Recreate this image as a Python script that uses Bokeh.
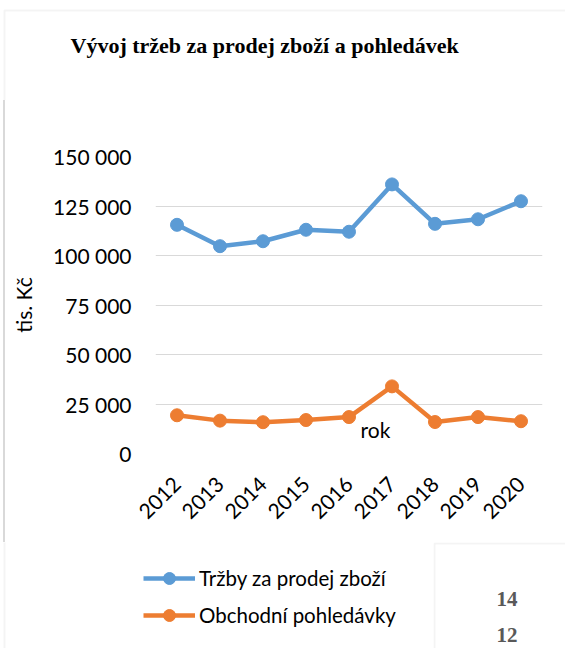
import math
from bokeh.plotting import figure
from bokeh.layouts import column, row
from bokeh.models import Range1d, FactorRange, Label, Legend, LegendItem, BoxAnnotation, Spacer
from bokeh.embed import file_html
from bokeh.resources import INLINE

years = ["2012", "2013", "2014", "2015", "2016", "2017", "2018", "2019", "2020"]
trzby = [115500, 104700, 107200, 113000, 112000, 135900, 116000, 118300, 127400]
pohledavky = [19300, 16600, 15800, 16900, 18400, 33900, 15900, 18400, 16300]
y_ticks = [0, 25000, 50000, 75000, 100000, 125000, 150000]
y_tick_labels = ["0", "25 000", "50 000", "75 000", "100 000", "125 000", "150 000"]
series_names = ["Tržby za prodej zboží", "Obchodní pohledávky"]
title_text = "Vývoj tržeb za prodej zboží a pohledávek"
x_title = "rok"
y_title = "tis. Kč"
other_chart_ticks = ["14", "12"]

BLUE = "#5B9BD5"
ORANGE = "#ED7D31"
GRID = "#D9D9D9"
FONT = "Lato"
SERIF = "Liberation Serif"


def blank(fig):
    fig.outline_line_color = None
    fig.xaxis.visible = False
    fig.yaxis.visible = False
    fig.xgrid.visible = False
    fig.ygrid.visible = False
    fig.background_fill_color = "white"
    fig.border_fill_color = "white"


def edge_line(fig, top):
    # light grey chart-area border (left edge, and top edge where visible)
    fig.add_layout(BoxAnnotation(left=4, right=5000, top=top, bottom=-5000,
                                 left_units="screen", right_units="screen",
                                 top_units="screen", bottom_units="screen",
                                 fill_alpha=0, line_color=GRID, line_width=2))


# ---------------- title strip ----------------
tf = figure(width=565, height=100, x_range=Range1d(0, 1), y_range=Range1d(0, 1),
            output_backend="svg", toolbar_location=None, min_border=0)
blank(tf)
edge_line(tf, 90)
tf.add_layout(Label(x=70, y=55, x_units="screen", y_units="screen",
                    text=title_text, text_align="left", text_baseline="alphabetic",
                    text_font=SERIF, text_font_style="bold",
                    text_font_size="22px", text_color="#000000"))

# ---------------- left edge strip (border line only) ----------------
ef = Spacer(width=8, height=442,
            styles={"background": "linear-gradient(to right, #ffffff 0px, #ffffff 3px, "
                                  "#D9D9D9 3px, #D9D9D9 5px, #ffffff 5px, #ffffff 8px)"})

# ---------------- main chart ----------------
p = figure(width=557, height=442,
           x_range=FactorRange(*years, range_padding=0),
           y_range=Range1d(0, 150000),
           output_backend="svg", toolbar_location=None,
           min_border_left=144, min_border_right=23,
           min_border_top=56, min_border_bottom=89)
p.outline_line_color = None
p.background_fill_color = "white"
p.border_fill_color = "white"

p.xgrid.visible = False
p.ygrid.grid_line_color = GRID
p.ygrid.grid_line_width = 1.2

p.yaxis.ticker = y_ticks
p.yaxis.major_label_overrides = dict(zip(y_ticks, y_tick_labels))
for ax in (p.xaxis[0], p.yaxis[0]):
    ax.axis_line_color = None
    ax.major_tick_line_color = None
    ax.minor_tick_line_color = None
    ax.major_tick_out = 0
    ax.major_tick_in = 0
    ax.minor_tick_out = 0
    ax.major_label_text_font = FONT
    ax.major_label_text_font_size = "21px"
    ax.major_label_text_color = "#000000"
p.yaxis.major_label_standoff = 24
p.yaxis.axis_label = y_title
p.yaxis.axis_label_text_font = FONT
p.yaxis.axis_label_text_font_size = "21px"
p.yaxis.axis_label_text_font_style = "normal"
p.yaxis.axis_label_text_color = "#000000"
p.yaxis.axis_label_standoff = 14
p.xaxis.major_label_orientation = math.pi / 4
p.xaxis.major_label_standoff = 27

r1 = p.line(years, trzby, line_color=BLUE, line_width=4.5)
s1 = p.scatter(years, trzby, size=13, color=BLUE)
r2 = p.line(years, pohledavky, line_color=ORANGE, line_width=4.5)
s2 = p.scatter(years, pohledavky, size=13, color=ORANGE)

# x axis title (Excel put it inside the plot area)
p.add_layout(Label(x=220, y=24, x_units="screen", y_units="screen",
                   text=x_title, text_align="center", text_baseline="alphabetic",
                   text_font=FONT, text_font_size="21px", text_color="#000000"))

# ---------------- legend strip ----------------
lg = figure(width=433, height=106, x_range=FactorRange(*years), y_range=Range1d(-2, -1),
            output_backend="svg", toolbar_location=None, min_border=0)
blank(lg)
edge_line(lg, 5000)
# legend proxies: same series, kept outside this strip's visible y range
lr1 = lg.line(years, trzby, line_color=BLUE, line_width=4.5)
ls1 = lg.scatter(years, trzby, size=13, color=BLUE)
lr2 = lg.line(years, pohledavky, line_color=ORANGE, line_width=4.5)
ls2 = lg.scatter(years, pohledavky, size=13, color=ORANGE)
legend = Legend(items=[LegendItem(label=series_names[0], renderers=[lr1, ls1]),
                       LegendItem(label=series_names[1], renderers=[lr2, ls2])],
                location=(143, 18), orientation="vertical",
                glyph_width=52, glyph_height=30, spacing=7, label_standoff=4,
                padding=0, margin=0, border_line_color=None,
                background_fill_alpha=0,
                label_text_font=FONT, label_text_font_size="20.5px",
                label_text_color="#000000")
lg.add_layout(legend, "center")

# ---------------- neighbouring chart fragment ----------------
fr = figure(width=132, height=106, x_range=Range1d(0, 1), y_range=Range1d(0, 1),
            output_backend="svg", toolbar_location=None, min_border=0)
blank(fr)
fr.add_layout(BoxAnnotation(left=1, right=5000, top=105, bottom=-5000,
                            left_units="screen", right_units="screen",
                            top_units="screen", bottom_units="screen",
                            fill_color="white", fill_alpha=1,
                            line_color=GRID, line_width=2))
for i, t in enumerate(other_chart_ticks):
    fr.add_layout(Label(x=84, y=50 - 36 * i, x_units="screen", y_units="screen",
                        text=t, text_align="right", text_baseline="alphabetic",
                        text_font=SERIF, text_font_style="bold",
                        text_font_size="21px", text_color="#595959"))

layout = column(tf, row(ef, p, spacing=0), row(lg, fr, spacing=0), spacing=0)

open("out.html", "w").write(file_html(layout, INLINE))
